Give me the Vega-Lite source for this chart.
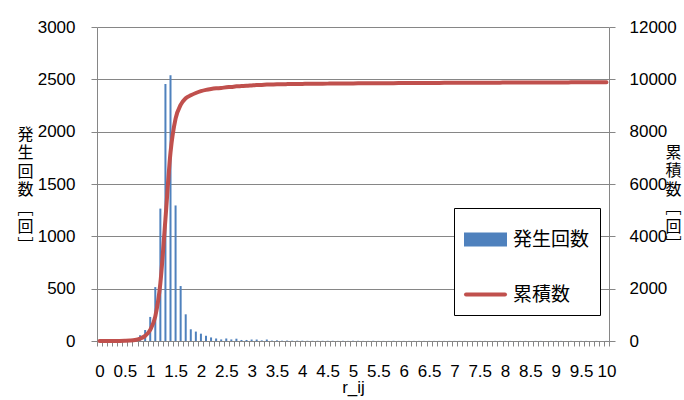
{
  "$schema": "https://vega.github.io/schema/vega-lite/v6.json",
  "width": 512,
  "height": 314,
  "autosize": "none",
  "padding": {"left": 97, "top": 27, "right": 75, "bottom": 59},
  "background": "#ffffff",
  "config": {"view": {"stroke": null}},
  "data": {"values": [
    {"r":"0","count":0,"cum":0},
    {"r":"0.1","count":0,"cum":0},
    {"r":"0.2","count":1,"cum":1},
    {"r":"0.3","count":1,"cum":2},
    {"r":"0.4","count":2,"cum":4},
    {"r":"0.5","count":4,"cum":8},
    {"r":"0.6","count":8,"cum":16},
    {"r":"0.7","count":20,"cum":36},
    {"r":"0.8","count":55,"cum":91},
    {"r":"0.9","count":105,"cum":196},
    {"r":"1","count":230,"cum":426},
    {"r":"1.1","count":515,"cum":941},
    {"r":"1.2","count":1265,"cum":2206},
    {"r":"1.3","count":2455,"cum":4661},
    {"r":"1.4","count":2540,"cum":7201},
    {"r":"1.5","count":1295,"cum":8496},
    {"r":"1.6","count":525,"cum":9021},
    {"r":"1.7","count":255,"cum":9276},
    {"r":"1.8","count":112,"cum":9388},
    {"r":"1.9","count":90,"cum":9478},
    {"r":"2","count":70,"cum":9548},
    {"r":"2.1","count":50,"cum":9598},
    {"r":"2.2","count":34,"cum":9632},
    {"r":"2.3","count":24,"cum":9656},
    {"r":"2.4","count":15,"cum":9671},
    {"r":"2.5","count":24,"cum":9695},
    {"r":"2.6","count":15,"cum":9710},
    {"r":"2.7","count":22,"cum":9732},
    {"r":"2.8","count":10,"cum":9742},
    {"r":"2.9","count":10,"cum":9752},
    {"r":"3","count":14,"cum":9766},
    {"r":"3.1","count":14,"cum":9780},
    {"r":"3.2","count":6,"cum":9786},
    {"r":"3.3","count":14,"cum":9800},
    {"r":"3.4","count":4,"cum":9804},
    {"r":"3.5","count":6,"cum":9810},
    {"r":"3.6","count":3,"cum":9813},
    {"r":"3.7","count":4,"cum":9817},
    {"r":"3.8","count":3,"cum":9820},
    {"r":"3.9","count":3,"cum":9823},
    {"r":"4","count":3,"cum":9826},
    {"r":"4.1","count":2,"cum":9828},
    {"r":"4.2","count":2,"cum":9830},
    {"r":"4.3","count":2,"cum":9832},
    {"r":"4.4","count":2,"cum":9834},
    {"r":"4.5","count":2,"cum":9836},
    {"r":"4.6","count":2,"cum":9838},
    {"r":"4.7","count":1,"cum":9839},
    {"r":"4.8","count":2,"cum":9841},
    {"r":"4.9","count":1,"cum":9842},
    {"r":"5","count":2,"cum":9844},
    {"r":"5.1","count":2,"cum":9846},
    {"r":"5.2","count":1,"cum":9847},
    {"r":"5.3","count":1,"cum":9848},
    {"r":"5.4","count":2,"cum":9850},
    {"r":"5.5","count":1,"cum":9851},
    {"r":"5.6","count":1,"cum":9852},
    {"r":"5.7","count":1,"cum":9853},
    {"r":"5.8","count":2,"cum":9855},
    {"r":"5.9","count":1,"cum":9856},
    {"r":"6","count":1,"cum":9857},
    {"r":"6.1","count":1,"cum":9858},
    {"r":"6.2","count":1,"cum":9859},
    {"r":"6.3","count":1,"cum":9860},
    {"r":"6.4","count":1,"cum":9861},
    {"r":"6.5","count":1,"cum":9862},
    {"r":"6.6","count":1,"cum":9863},
    {"r":"6.7","count":1,"cum":9864},
    {"r":"6.8","count":1,"cum":9865},
    {"r":"6.9","count":1,"cum":9866},
    {"r":"7","count":1,"cum":9867},
    {"r":"7.1","count":1,"cum":9868},
    {"r":"7.2","count":1,"cum":9869},
    {"r":"7.3","count":0,"cum":9869},
    {"r":"7.4","count":1,"cum":9870},
    {"r":"7.5","count":1,"cum":9871},
    {"r":"7.6","count":1,"cum":9872},
    {"r":"7.7","count":0,"cum":9872},
    {"r":"7.8","count":1,"cum":9873},
    {"r":"7.9","count":1,"cum":9874},
    {"r":"8","count":1,"cum":9875},
    {"r":"8.1","count":1,"cum":9876},
    {"r":"8.2","count":0,"cum":9876},
    {"r":"8.3","count":1,"cum":9877},
    {"r":"8.4","count":1,"cum":9878},
    {"r":"8.5","count":0,"cum":9878},
    {"r":"8.6","count":1,"cum":9879},
    {"r":"8.7","count":1,"cum":9880},
    {"r":"8.8","count":0,"cum":9880},
    {"r":"8.9","count":1,"cum":9881},
    {"r":"9","count":1,"cum":9882},
    {"r":"9.1","count":1,"cum":9883},
    {"r":"9.2","count":0,"cum":9883},
    {"r":"9.3","count":1,"cum":9884},
    {"r":"9.4","count":0,"cum":9884},
    {"r":"9.5","count":1,"cum":9885},
    {"r":"9.6","count":1,"cum":9886},
    {"r":"9.7","count":0,"cum":9886},
    {"r":"9.8","count":1,"cum":9887},
    {"r":"9.9","count":0,"cum":9887},
    {"r":"10","count":1,"cum":9888}
  ]},
  "encoding": {
    "x": {
      "field": "r",
      "type": "ordinal",
      "sort": null,
      "scale": {"paddingInner": 0, "paddingOuter": 0},
      "axis": {
        "title": "r_ij",
        "titleFont": "Liberation Sans",
        "titleFontSize": 17,
        "titleFontWeight": "normal",
        "titleColor": "#000000",
        "titleBaseline": "top",
        "titleY": 38,
        "labelAngle": 0,
        "labelExpr": "round(toNumber(datum.value)*10) % 5 === 0 ? datum.value : ''",
        "labelOverlap": false,
        "labelBound": false,
        "labelFlush": false,
        "labelFont": "Liberation Sans",
        "labelFontSize": 17,
        "labelColor": "#000000",
        "labelPadding": 17,
        "tickBand": "extent",
        "tickSize": 5,
        "tickColor": "#868686",
        "domainColor": "#868686",
        "grid": false
      }
    }
  },
  "layer": [
    {
      "mark": {"type": "bar", "size": 2},
      "encoding": {
        "y": {
          "field": "count",
          "type": "quantitative",
          "scale": {"domain": [0, 3000], "nice": false},
          "axis": {
            "orient": "left",
            "values": [0, 500, 1000, 1500, 2000, 2500, 3000],
            "format": "d",
            "title": ["発", "生", "回", "数", "﹇", "回", "﹈"],
            "titleAngle": 0,
            "titleAlign": "center",
            "titleBaseline": "top",
            "titleX": -72,
            "titleY": 99,
            "titleLineHeight": 18.5,
            "titleFont": "Noto Sans CJK JP",
            "titleFontSize": 16,
            "titleFontWeight": "normal",
            "titleColor": "#000000",
            "labelFont": "Liberation Sans",
            "labelFontSize": 17,
            "labelColor": "#000000",
            "labelPadding": 16,
            "tickSize": 6,
            "tickColor": "#868686",
            "domainColor": "#868686",
            "grid": true,
            "gridColor": "#868686",
            "gridWidth": 1
          }
        },
        "color": {
          "datum": "発生回数",
          "type": "nominal",
          "scale": {"domain": ["発生回数", "累積数"], "range": ["#4F81BD", "#C0504D"]},
          "legend": {
            "title": null,
            "orient": "none",
            "legendX": 357,
            "legendY": 181,
            "fillColor": "#ffffff",
            "strokeColor": "#000000",
            "padding": 10,
            "rowPadding": 20,
            "symbolSize": 1521,
            "labelFont": "Noto Sans CJK JP",
            "labelFontSize": 19,
            "labelColor": "#000000",
            "labelOffset": 6,
            "encode": {
              "symbols": {
                "update": {
                  "shape": {"signal": "datum.value === '発生回数' ? 'M-1,-0.26H1V0.26H-1Z' : 'M-1,0H1'"},
                  "fill": {"signal": "datum.value === '発生回数' ? '#4F81BD' : 'transparent'"},
                  "stroke": {"signal": "datum.value === '発生回数' ? 'transparent' : '#C0504D'"},
                  "strokeWidth": {"value": 4},
                  "strokeCap": {"value": "round"},
                  "opacity": {"value": 1}
                }
              }
            }
          }
        }
      }
    },
    {
      "mark": {"type": "line", "strokeWidth": 4, "interpolate": "monotone", "strokeCap": "round"},
      "encoding": {
        "y": {
          "field": "cum",
          "type": "quantitative",
          "scale": {"domain": [0, 12000], "nice": false},
          "axis": {
            "orient": "right",
            "values": [0, 2000, 4000, 6000, 8000, 10000, 12000],
            "format": "d",
            "title": ["累", "積", "数", "﹇", "回", "﹈"],
            "titleAngle": 0,
            "titleAlign": "center",
            "titleBaseline": "top",
            "titleX": 64,
            "titleY": 117,
            "titleLineHeight": 18.5,
            "titleFont": "Noto Sans CJK JP",
            "titleFontSize": 16,
            "titleFontWeight": "normal",
            "titleColor": "#000000",
            "labelFont": "Liberation Sans",
            "labelFontSize": 17,
            "labelColor": "#000000",
            "labelPadding": 14,
            "tickSize": 6,
            "tickColor": "#868686",
            "domainColor": "#868686",
            "grid": false
          }
        },
        "color": {"datum": "累積数", "type": "nominal"}
      }
    }
  ],
  "resolve": {"scale": {"y": "independent"}}
}
